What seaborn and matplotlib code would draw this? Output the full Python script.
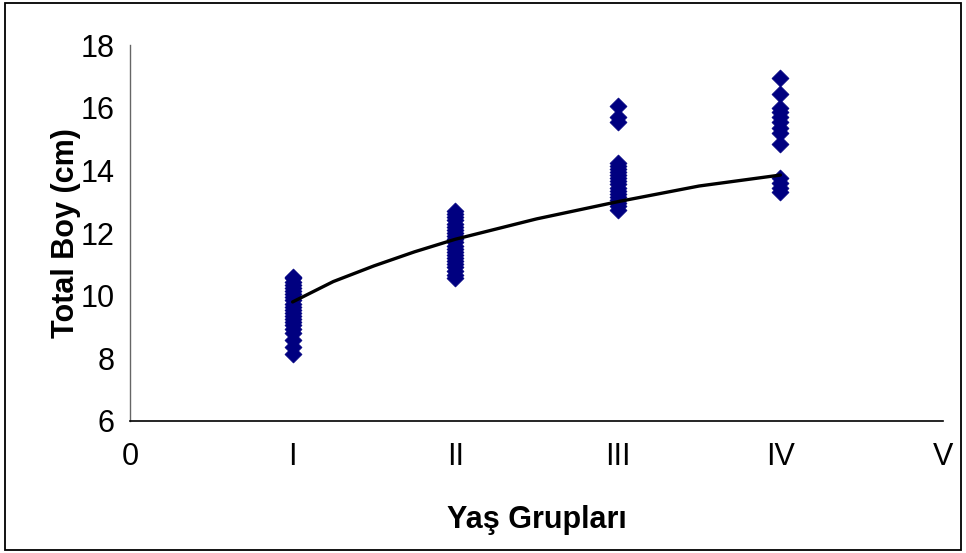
import matplotlib
matplotlib.use("Agg")
import matplotlib.pyplot as plt
import matplotlib.patches as patches
import pandas as pd
import seaborn as sns

# Total length (cm) per age group
ages = [1, 2, 3, 4]
boy_I = [8.15, 8.35, 8.6, 8.8, 8.95, 9.05, 9.15, 9.25, 9.35, 9.45, 9.55, 9.65,
         9.75, 9.85, 9.95, 10.05, 10.15, 10.25, 10.35, 10.45, 10.55, 10.6]
boy_II = [10.55, 10.65, 10.8, 10.9, 11.0, 11.1, 11.2, 11.3, 11.4, 11.5, 11.6,
          11.7, 11.8, 11.9, 12.0, 12.1, 12.2, 12.3, 12.4, 12.5, 12.6, 12.7]
boy_III = [12.75, 12.85, 12.95, 13.05, 13.15, 13.25, 13.35, 13.45, 13.55, 13.65,
           13.75, 13.85, 13.95, 14.05, 14.15, 14.25, 15.55, 15.7, 16.05]
boy_IV = [13.3, 13.45, 13.6, 13.75, 14.85, 15.2, 15.35, 15.55, 15.7, 15.85,
          16.0, 16.45, 16.95]

# trend line (logarithmic, as drawn in the chart)
trend_x = [1, 1.25, 1.5, 1.75, 2, 2.5, 3, 3.5, 4]
trend_y = [9.8, 10.45, 10.95, 11.4, 11.8, 12.45, 13.0, 13.5, 13.85]

tick_pos = [0, 1, 2, 3, 4, 5]
tick_labels = ["0", "I", "II", "III", "IV", "V"]

rows = []
for age, vals in zip(ages, [boy_I, boy_II, boy_III, boy_IV]):
    for v in vals:
        rows.append({"age": age, "boy": v})
df = pd.DataFrame(rows)
trend = pd.DataFrame({"age": trend_x, "boy": trend_y})

sns.set_theme(style="white")
plt.rcParams["font.family"] = ["Liberation Sans", "DejaVu Sans"]
plt.rcParams["text.color"] = "black"
plt.rcParams["axes.labelcolor"] = "black"
plt.rcParams["xtick.color"] = "black"
plt.rcParams["ytick.color"] = "black"

fig = plt.figure(figsize=(9.66, 5.53), dpi=100)
ax = fig.add_axes([0.1346, 0.2387, 0.8416, 0.6799])

sns.scatterplot(data=df, x="age", y="boy", marker="D", s=75, color="#000080",
                edgecolor="#000080", linewidth=0.5, ax=ax, zorder=2)
sns.lineplot(data=trend, x="age", y="boy", color="black", linewidth=2.4,
             ax=ax, zorder=3)

ax.set_xlim(0, 5)
ax.set_ylim(6, 18)
ax.set_xticks(tick_pos)
ax.set_xticklabels(tick_labels)
ax.set_yticks([6, 8, 10, 12, 14, 16, 18])
ax.tick_params(axis="both", labelsize=22, direction="out", length=5, width=1,
               color="#555555", labelcolor="black", pad=10)
ax.tick_params(axis="y", pad=6)

for side in ["top", "right"]:
    ax.spines[side].set_visible(False)
ax.spines["left"].set_color("#666666")
ax.spines["bottom"].set_color("black")
ax.spines["left"].set_linewidth(1)
ax.spines["bottom"].set_linewidth(1.2)

ax.set_xlabel("Yaş Grupları", fontsize=22, fontweight="bold", labelpad=24)
ax.set_ylabel("Total Boy (cm)", fontsize=22, fontweight="bold", labelpad=0)

fig.patches.append(patches.Rectangle((0.005, 0.006), 0.99, 0.988,
                                     transform=fig.transFigure, fill=False,
                                     edgecolor="black", linewidth=1.3))

plt.savefig("out.png", dpi=100)
